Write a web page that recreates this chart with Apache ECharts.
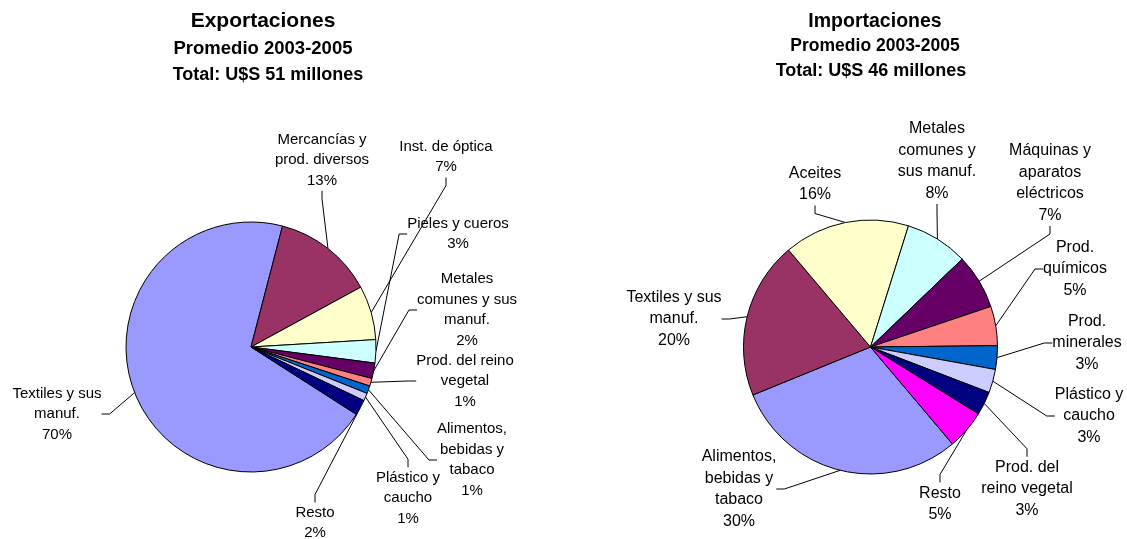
<!DOCTYPE html>
<html><head><meta charset="utf-8">
<script src="https://cdn.jsdelivr.net/npm/echarts@6/dist/echarts.min.js"></script>
<style>html,body{margin:0;padding:0;background:#fff}#c{width:1127px;height:539px}</style>
</head><body><div id="c"></div>
<script>
// ---- data ----
const expTitle = ['Exportaciones', 'Promedio 2003-2005', 'Total: U$S 51 millones'];
const expCategories = ['Textiles y sus\nmanuf.', 'Mercancías y\nprod. diversos', 'Inst. de óptica', 'Pieles y cueros', 'Metales\ncomunes y sus\nmanuf.', 'Prod. del reino\nvegetal', 'Alimentos,\nbebidas y\ntabaco', 'Plástico y\ncaucho', 'Resto'];
const expValues = [70, 13, 7, 3, 2, 1, 1, 1, 2];

const impTitle = ['Importaciones', 'Promedio 2003-2005', 'Total: U$S 46 millones'];
const impCategories = ['Alimentos,\nbebidas y\ntabaco', 'Textiles y sus\nmanuf.', 'Aceites', 'Metales\ncomunes y\nsus manuf.', 'Máquinas y\naparatos\neléctricos', 'Prod.\nquímicos', 'Prod.\nminerales', 'Plástico y\ncaucho', 'Prod. del\nreino vegetal', 'Resto'];
const impValues = [30, 20, 16, 8, 7, 5, 3, 3, 3, 5];

// ---- styles / layout ----
const FONT = '"Liberation Sans", Arial, Helvetica, sans-serif';
const expColors = ['#9999FF', '#993366', '#FFFFCC', '#CCFFFF', '#660066', '#FF8080', '#0066CC', '#CCCCFF', '#000080'];
const impColors = ['#9999FF', '#993366', '#FFFFCC', '#CCFFFF', '#660066', '#FF8080', '#0066CC', '#CCCCFF', '#000080', '#FF00FF'];
const expLabelPos = [[57, 414], [322, 160], [446, 157], [458, 234], [467, 310], [465, 381], [472, 460], [408, 498], [315, 523]];
const impLabelPos = [[739, 489], [674, 319], [815, 184], [937, 161], [1050, 183], [1075, 269], [1087, 343], [1089, 416], [1027, 489], [940, 504]];
const expTitleLayout = [[263, 21.5, 21], [263, 49, 18.5], [268, 74.7, 18]];
const impTitleLayout = [[875, 21.5, 19.5], [875, 46, 17.5], [871, 71, 18]];

function titles(texts, layout) {
  return texts.map((t, i) => {
    const [x, cy, fs] = layout[i];
    const lh = Math.round(fs * 1.2);
    return {
      text: t, left: x, top: cy - lh / 2, textAlign: 'center', padding: 0,
      textStyle: { fontFamily: FONT, fontWeight: 'bold', fontSize: fs, lineHeight: lh, color: '#000' }
    };
  });
}

function pieSeries(cats, vals, colors, center, radius, startAngle, pos, fs, lh) {
  return {
    type: 'pie', center: center, radius: radius, startAngle: startAngle, clockwise: true,
    avoidLabelOverlap: false, silent: true, animation: false,
    data: cats.map((n, i) => ({ name: n, value: vals[i], itemStyle: { color: colors[i] } })),
    itemStyle: { borderColor: '#000', borderWidth: 1 },
    label: {
      show: true, position: 'outside', bleedMargin: 0,
      formatter: p => p.name + '\n' + Math.round(p.percent) + '%',
      fontFamily: FONT, fontSize: fs, lineHeight: lh, color: '#000', align: 'center'
    },
    labelLine: { show: true, length: 4, length2: 8, smooth: false, lineStyle: { color: '#000', width: 1 } },
    labelLayout: p => ({ x: pos[p.dataIndex][0], y: pos[p.dataIndex][1], align: 'center', verticalAlign: 'middle' }),
    emphasis: { disabled: true }
  };
}

const chart = echarts.init(document.getElementById('c'), null, { renderer: 'canvas' });
chart.setOption({
  backgroundColor: '#fff',
  animation: false,
  title: titles(expTitle, expTitleLayout).concat(titles(impTitle, impTitleLayout)),
  series: [
    pieSeries(expCategories, expValues, expColors, [251, 347], 125, -32.6, expLabelPos, 15, 20.5),
    pieSeries(impCategories, impValues, impColors, [870.5, 347], 127, -49.8, impLabelPos, 16, 21.5)
  ]
});
</script>
</body></html>
